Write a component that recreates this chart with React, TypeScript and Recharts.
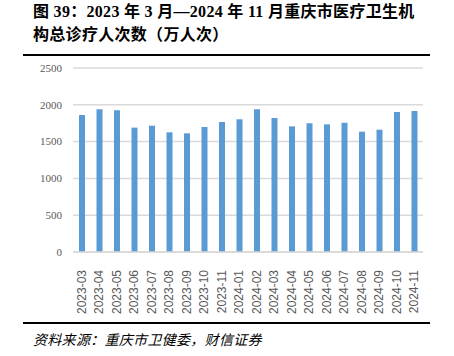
import { BarChart, Bar, XAxis, YAxis, CartesianGrid } from "recharts";

const months = [
  "2023-03", "2023-04", "2023-05", "2023-06", "2023-07", "2023-08", "2023-09",
  "2023-10", "2023-11", "2024-01", "2024-02", "2024-03", "2024-04", "2024-05",
  "2024-06", "2024-07", "2024-08", "2024-09", "2024-10", "2024-11",
];
const visits = [
  1860, 1940, 1925, 1690, 1716, 1626, 1612, 1698, 1766, 1803,
  1939, 1820, 1707, 1748, 1734, 1757, 1635, 1662, 1902, 1916,
];
const yTicks = [0, 500, 1000, 1500, 2000, 2500];

const data = months.map((m, i) => ({ month: m, value: visits[i] }));

const serif = "'Liberation Serif', 'Noto Sans CJK SC', serif";

function MonthTick(props: any) {
  const { x, y, payload } = props;
  return (
    <text
      x={x}
      y={y + 10}
      transform={`rotate(-90, ${x}, ${y + 10})`}
      textAnchor="end"
      dy="0.35em"
      fontSize={12}
      fontFamily="'Liberation Sans', Arial, sans-serif"
      fill="#595959"
    >
      {payload.value}
    </text>
  );
}

function ValueTick(props: any) {
  const { x, y, payload } = props;
  return (
    <text x={x} y={y} dy="0.35em" textAnchor="end" fontSize={11} fontFamily={serif} fill="#595959">
      {payload.value}
    </text>
  );
}

export default function App() {
  return (
    <div style={{ position: "absolute", left: 0, top: 0, width: 454, height: 356, background: "#fff" }}>
      <div
        style={{
          position: "absolute", left: 33, top: 0, fontFamily: serif, fontWeight: "bold",
          fontSize: 16, lineHeight: "23px", letterSpacing: 0.3, color: "#000", whiteSpace: "nowrap",
        }}
      >
        <div>图 39：2023 年 3 月—2024 年 11 月重庆市医疗卫生机</div>
        <div>构总诊疗人次数（万人次）</div>
      </div>
      <div style={{ position: "absolute", left: 23, top: 54, width: 407, height: 2, background: "#000" }} />
      <div style={{ position: "absolute", left: 0, top: 55 }}>
        <BarChart
          width={454}
          height={260}
          data={data}
          margin={{ top: 13, right: 31, bottom: 5, left: 0 }}
          barSize={6}
        >
          <CartesianGrid vertical={false} stroke="#d9d9d9" strokeWidth={1.5} />
          <XAxis
            dataKey="month"
            interval={0}
            height={58}
            tickLine={false}
            axisLine={{ stroke: "#d9d9d9", strokeWidth: 1.5 }}
            tick={<MonthTick />}
          />
          <YAxis
            width={73}
            domain={[0, 2500]}
            ticks={yTicks}
            tickLine={false}
            axisLine={false}
            tickMargin={5}
            tick={<ValueTick />}
          />
          <Bar dataKey="value" fill="#5b9bd5" isAnimationActive={false} />
        </BarChart>
      </div>
      <div style={{ position: "absolute", left: 23, top: 322, width: 407, height: 2, background: "#000" }} />
      <div
        style={{
          position: "absolute", left: 33, top: 329, fontFamily: serif, fontStyle: "italic",
          fontSize: 14, letterSpacing: 0.3, color: "#000", whiteSpace: "nowrap",
        }}
      >
        资料来源：重庆市卫健委，财信证券
      </div>
    </div>
  );
}
